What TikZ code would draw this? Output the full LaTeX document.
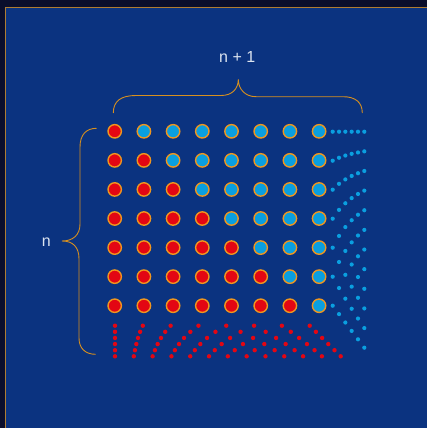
\documentclass[tikz,border=0pt]{standalone}
\usepackage{fontspec}
\setmainfont{Liberation Sans}
\usetikzlibrary{positioning}
\definecolor{night}{HTML}{0A0E2C}
\definecolor{panel}{HTML}{0B3380}
\definecolor{rim}{HTML}{F0961E}
\definecolor{ruby}{HTML}{E30613}
\definecolor{sky}{HTML}{0A9FE0}
\definecolor{chalk}{HTML}{DCE4F0}
\definecolor{amber}{HTML}{D8901E}
\tikzset{
  ball/.style={draw=rim, line width=1.4pt},
  reddot/.style={fill=ruby},
  bluedot/.style={fill=sky},
  bracket/.style={draw=amber, line width=0.9pt},
  lbl/.style={text=chalk, font=\fontsize{16}{19}\selectfont, inner sep=0pt, anchor=base}
}

\begin{document}
\begin{tikzpicture}[x=1pt, y=-1pt]
\useasboundingbox (0,0) rectangle (427,428);
\clip (0,0) rectangle (427,428);
\fill[night] (0,0) rectangle (427,428);
\filldraw[fill=panel, draw=amber!80!panel, line width=0.8pt] (5.5,7.5) rectangle (440,440);

% the n x (n+1) grid: row i holds i+1 red balls
\foreach \i in {0,...,6}
  \foreach \j in {0,...,7} {
    \pgfmathsetmacro{\cx}{114.7+29.2*\j}
    \pgfmathsetmacro{\cy}{131.3+29.07*\i}
    \ifnum\j>\i \def\col{sky}\else\def\col{ruby}\fi
    \path[ball, fill=\col] (\cx,\cy) circle[radius=6.7];
  }

% red dots below, one more per line
\foreach \m in {0,...,5} {
  \pgfmathsetmacro{\yy}{325.7+6.12*\m}
  \pgfmathsetmacro{\dx}{(194.7+6.2*\m)/(7+\m)}
  \pgfmathtruncatemacro{\last}{7+\m}
  \foreach \k in {0,...,\last}
    \path[reddot] (115+\k*\dx, \yy) circle[radius=2.2];
}

% blue dots to the right
\foreach \m in {0,...,5} {
  \pgfmathsetmacro{\xx}{332.7+6.32*\m}
  \pgfmathsetmacro{\dy}{(174+8.4*\m)/(6+\m)}
  \pgfmathtruncatemacro{\last}{6+\m}
  \foreach \k in {0,...,\last}
    \path[bluedot] (\xx, 131.7+\k*\dy) circle[radius=2.1];
}

% braces
\draw[bracket] (113.3,113) .. controls (113.3,101) and (121,95.5) .. (136,95.5)
  -- (221,95.5) .. controls (232,95.5) and (238.3,89) .. (238.3,79.3)
  .. controls (238.3,89) and (245,96.7) .. (256,96.7)
  -- (343,96.7) .. controls (355,96.7) and (362.3,102) .. (362.3,113);
\draw[bracket] (96.5,128.3) .. controls (86,128.3) and (80,135) .. (80,147)
  -- (80,224) .. controls (80,235) and (73,241) .. (62,241)
  .. controls (73,241) and (79,247) .. (79,259)
  -- (79,338) .. controls (79,348) and (85,354.3) .. (95.7,354.3);

\node[lbl] (cols) at (237.2,62.7) {n + 1};
\node[lbl] (rows) at (46.2,246.7) {n};
\end{tikzpicture}
\end{document}
